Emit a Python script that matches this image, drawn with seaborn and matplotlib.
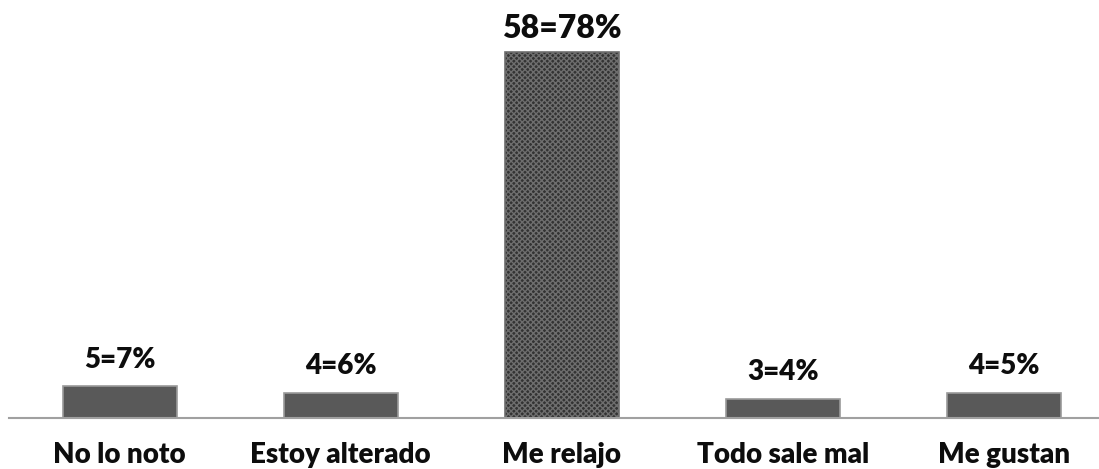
import pandas as pd
import numpy as np
import matplotlib
matplotlib.use("Agg")
import matplotlib.pyplot as plt
import seaborn as sns

# Data
categories = ["No lo noto", "Estoy alterado", "Me relajo", "Todo sale mal", "Me gustan"]
counts = [5, 4, 58, 3, 4]
labels = ["5=7%", "4=6%", "58=78%", "3=4%", "4=5%"]

df = pd.DataFrame({"Categoria": categories, "Cantidad": counts})

sns.set_theme(style="white")
plt.rcParams['font.family'] = ['Lato', 'DejaVu Sans']

fig = plt.figure(figsize=(10.99, 4.69), dpi=100)
ax = fig.add_axes([9 / 1099, 51 / 469, 1 - 9 / 1099, 418 / 469])

colors = ["#595959", "#595959", "#333333", "#595959", "#595959"]
sns.barplot(data=df, x="Categoria", y="Cantidad", hue="Categoria", palette=colors,
            legend=False, width=0.516, ax=ax, saturation=1)

for i, bar in enumerate(ax.patches):
    bar.set_edgecolor("#9a9a9a")
    bar.set_linewidth(1.2)
    if i == 2:
        bar.set_hatch("xxxxxx")
        bar.set_edgecolor("#6e6e6e")

# value labels
for i, bar in enumerate(ax.patches):
    size = 23 if i == 2 else 20
    off = 6 if i == 2 else 10
    ax.annotate(labels[i], (bar.get_x() + bar.get_width() / 2, bar.get_height()),
                xytext=(0, off), textcoords="offset points", ha="center", va="bottom",
                fontsize=size, fontweight="heavy", color="#0d0d0d")

ax.set_xlim(-0.5, 4.43)
ax.set_ylim(0, 66.2)
ax.set_xlabel("")
ax.set_ylabel("")
ax.set_yticks([])
ax.tick_params(axis="x", labelsize=20, pad=17, length=0)
for t in ax.get_xticklabels():
    t.set_fontweight("heavy")
    t.set_color("#0d0d0d")

for s in ["top", "right", "left"]:
    ax.spines[s].set_visible(False)
ax.spines["bottom"].set_color("#a0a0a0")
ax.spines["bottom"].set_linewidth(1.5)

fig.savefig("out.png", dpi=100)
